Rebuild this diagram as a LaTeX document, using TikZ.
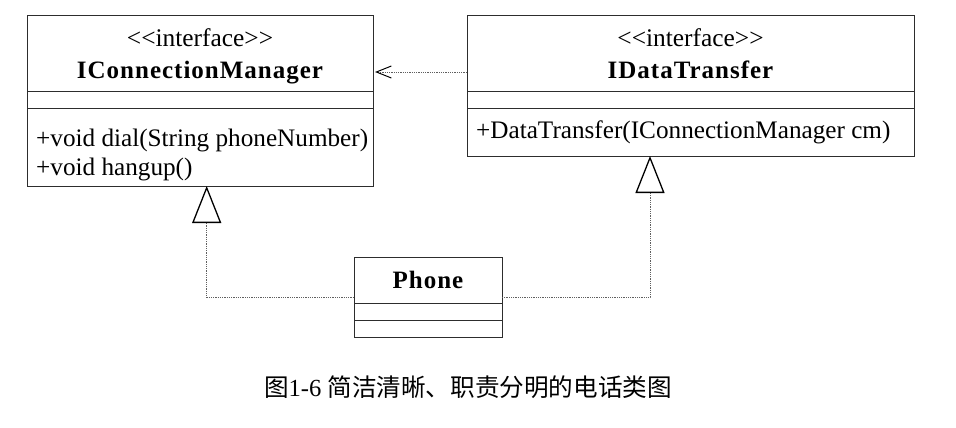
\documentclass[tikz,border=0pt]{standalone}
\usepackage{fontspec}
\setmainfont{Liberation Serif}
\newfontfamily\namefont{Liberation Serif}[LetterSpace=4]
\newfontfamily\cjkfont{Noto Sans CJK SC}
\usetikzlibrary{arrows.meta}
\definecolor{boxline}{RGB}{45,45,45}
\definecolor{dotline}{RGB}{95,95,95}
\newcommand{\stereotag}[1]{<\kern0pt<#1>\kern0pt>}
\tikzset{
  umlbox/.style={draw=boxline, line width=1pt, inner sep=0pt, outer sep=0pt, anchor=north west},
  stereo/.style={font=\fontsize{25.4}{28}\selectfont, inner sep=0pt, anchor=base},
  clsname/.style={font=\namefont\bfseries\fontsize{25}{28}\selectfont, inner sep=0pt, anchor=base},
  optext/.style={font=\fontsize{25.2}{28}\selectfont, inner sep=0pt, anchor=base west},
  depend/.style={densely dotted, dotline, line width=.8pt, -{Straight Barb[length=15pt, width=12pt, line width=1pt, color=black]}},
  realize/.style={densely dotted, dotline, line width=.8pt, -{Triangle[open, length=37pt, width=29pt, line width=1.3pt, color=black]}}
}
\begin{document}
\begin{tikzpicture}[x=1pt,y=1pt,yscale=-1,xscale=1]
\useasboundingbox (0,0) rectangle (956,428);

%Shape: Class IConnectionManager
\node[umlbox, minimum width=346pt, minimum height=75pt] (cmTitle) at (27,16) {};
\node[umlbox, minimum width=346pt, minimum height=17pt] (cmAttr) at (cmTitle.south west) {};
\node[umlbox, minimum width=346pt, minimum height=78pt] (cmOps) at (cmAttr.south west) {};
%Shape: Class IDataTransfer
\node[umlbox, minimum width=447pt, minimum height=75pt] (dtTitle) at (467,16) {};
\node[umlbox, minimum width=447pt, minimum height=17pt] (dtAttr) at (dtTitle.south west) {};
\node[umlbox, minimum width=447pt, minimum height=48pt] (dtOps) at (dtAttr.south west) {};
%Shape: Class Phone
\node[umlbox, minimum width=148pt, minimum height=46pt] (phTitle) at (354,257) {};
\node[umlbox, minimum width=148pt, minimum height=17pt] (phAttr) at (phTitle.south west) {};
\node[umlbox, minimum width=148pt, minimum height=17pt] (phOps) at (phAttr.south west) {};

% Text Node
\node[stereo] (cmStereo) at (200,47) {\stereotag{interface}};
% Text Node
\node[clsname] (cmName) at (200,78) {IConnectionManager};
% Text Node
\node[optext] (cmDial) at (36,146) {+void dial(String phoneNumber)};
% Text Node
\node[optext] (cmHang) at (36,175) {+void hangup()};
% Text Node
\node[stereo] (dtStereo) at (690.5,47) {\stereotag{interface}};
% Text Node
\node[clsname] (dtName) at (690.5,78) {IDataTransfer};
% Text Node
\node[optext] (dtCtor) at (476,138) {+DataTransfer(IConnectionManager cm)};
% Text Node
\node[clsname] (phName) at (428,288) {Phone};

%Straight Lines: dependency
\draw[depend] ([yshift=18.5pt]dtTitle.west) -- ([yshift=18.5pt,xshift=2pt]cmTitle.east);
%Straight Lines: realization
\draw[realize] ([yshift=17.7pt]phTitle.west) -| ([xshift=6.7pt]cmOps.south);
\draw[realize] ([yshift=17.7pt]phTitle.east) -| ([xshift=-40.5pt]dtOps.south);

% Text Node
\node[font=\fontsize{24.6}{28}\selectfont, inner sep=0pt, anchor=base] (caption) at (468,396) {\cjkfont 图\rmfamily 1-6 \cjkfont 简洁清晰、职责分明的电话类图};
\end{tikzpicture}
\end{document}
